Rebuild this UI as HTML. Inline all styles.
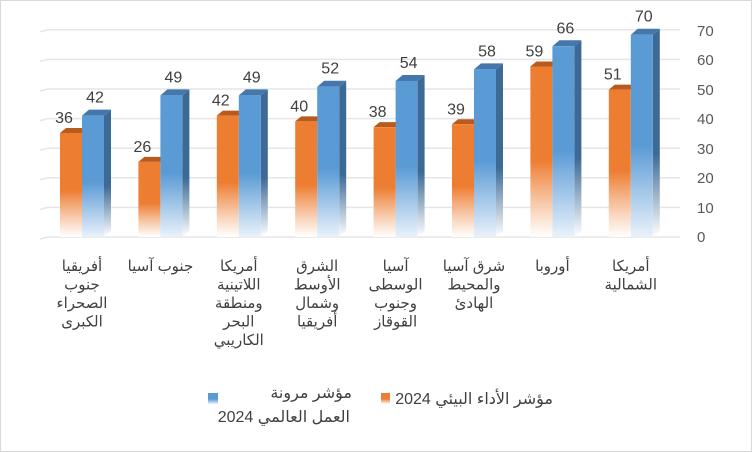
<!DOCTYPE html><html><head><meta charset="utf-8"><style>body{margin:0;background:#fff}svg{display:block;font-family:"Liberation Sans","DejaVu Sans",sans-serif}</style></head><body>
<svg width="752" height="452" viewBox="0 0 752 452">
<defs>
<linearGradient id="go" x1="0" y1="0" x2="0" y2="1"><stop offset="0" stop-color="#ed7d31"/><stop offset="0.55" stop-color="#ed7d31"/><stop offset="1" stop-color="#fff" stop-opacity="0.9"/></linearGradient>
<linearGradient id="gb" x1="0" y1="0" x2="0" y2="1"><stop offset="0" stop-color="#5b9bd5"/><stop offset="0.55" stop-color="#5b9bd5"/><stop offset="1" stop-color="#eaf2fb"/></linearGradient>
<linearGradient id="gs" x1="0" y1="0" x2="0" y2="1"><stop offset="0" stop-color="#3d6a94"/><stop offset="0.6" stop-color="#3d6a94"/><stop offset="1" stop-color="#fff"/></linearGradient>
</defs>
<rect x="0.5" y="0.5" width="751" height="451" fill="#fff" stroke="#d9d9d9"/>
<g id="grid" stroke="#e6e6e6" stroke-width="1.5"></g>
<g id="bars"></g>
<g id="txt" fill="#404040"></g>
<g font-size="15" fill="#595959" text-anchor="start">
<text x="697" y="242">0</text><text x="697" y="213">10</text><text x="697" y="183">20</text><text x="697" y="154">30</text><text x="697" y="124">40</text><text x="697" y="95">50</text><text x="697" y="65">60</text><text x="697" y="36">70</text>
</g>
<g font-size="16" fill="#404040">
<rect x="381" y="393" width="9" height="11" fill="url(#go)"/>
<text x="553" y="404" direction="rtl" text-anchor="start">مؤشر الأداء البيئي 2024</text>
<rect x="208" y="393" width="10" height="11" fill="url(#gb)"/>
<text x="352" y="398" direction="rtl" text-anchor="start">مؤشر مرونة</text>
<text x="350" y="422" direction="rtl" text-anchor="start">العمل العالمي 2024</text>
</g>
</svg>
<script>
const o=[36,26,42,40,38,39,59,51],b=[42,49,49,52,54,58,66,70];
const labs=[["أفريقيا","جنوب","الصحراء","الكبرى"],["جنوب آسيا"],["أمريكا","اللاتينية","ومنطقة","البحر","الكاريبي"],["الشرق","الأوسط","وشمال","أفريقيا"],["آسيا","الوسطى","وجنوب","القوقاز"],["شرق آسيا","والمحيط","الهادئ"],["أوروبا"],["أمريكا","الشمالية"]];
const ns="http://www.w3.org/2000/svg";
function el(p,t,a,tx){const e=document.createElementNS(ns,t);for(const k in a)e.setAttribute(k,a[k]);if(tx!==undefined)e.textContent=tx;document.getElementById(p).appendChild(e);}
for(let i=0;i<8;i++){const y=237-i*29.6;el("grid","path",{d:`M40 ${y+2} L48 ${y} L680 ${y}`,fill:"none"});}
const Y=v=>237-v*2.89;
for(let i=0;i<8;i++){
 const x=60+78.4*i;
 let t=Y(o[i]);
 el("bars","path",{d:`M${x} ${t} L${x+6} ${t-5} L${x+28} ${t-5} L${x+22} ${t} Z`,fill:"#b85a1c"});
 el("bars","rect",{x:x,y:t,width:22,height:237-t,fill:"url(#go)"});
 const bx=x+22;t=Y(b[i]);
 el("bars","path",{d:`M${bx+22} ${t} L${bx+29} ${t-6} L${bx+29} ${231} L${bx+22} 237 Z`,fill:"url(#gs)"});
 el("bars","path",{d:`M${bx} ${t} L${bx+7} ${t-6} L${bx+29} ${t-6} L${bx+22} ${t} Z`,fill:"#4477aa"});
 el("bars","rect",{x:bx,y:t,width:22,height:237-t,fill:"url(#gb)"});
 el("txt","text",{x:x+4,y:Y(o[i])-10,"font-size":16,"text-anchor":"middle"},o[i]);
 el("txt","text",{x:bx+13,y:Y(b[i])-13,"font-size":16,"text-anchor":"middle"},b[i]);
 labs[i].forEach((s,j)=>el("txt","text",{x:x+22,y:271+j*18.5,"font-size":15,"text-anchor":"middle",direction:"rtl"},s));
}
</script>
</body></html>
